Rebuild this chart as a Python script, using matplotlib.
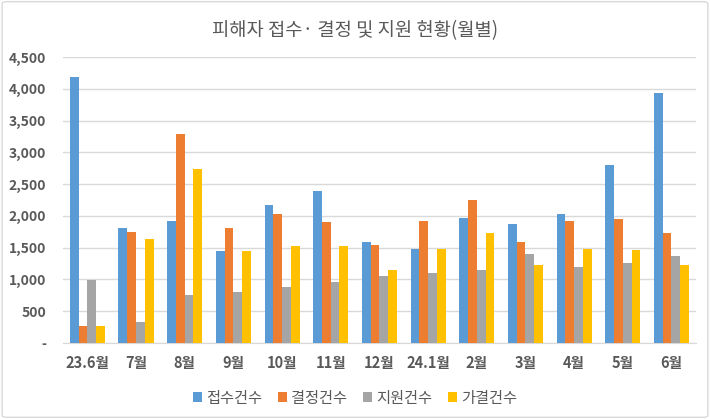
import numpy as np
import matplotlib
matplotlib.use("Agg")
import matplotlib.pyplot as plt
from matplotlib.patches import FancyBboxPatch
from matplotlib.ticker import FuncFormatter

plt.rcParams['font.family'] = ['Noto Sans CJK KR', 'DejaVu Sans']

# --- data ---
months = ['23.6월', '7월', '8월', '9월', '10월', '11월', '12월',
          '24.1월', '2월', '3월', '4월', '5월', '6월']
received = [4179, 1808, 1918, 1446, 2176, 2392, 1588, 1483, 1966, 1877, 2029, 2802, 3937]
decided = [263, 1745, 3285, 1808, 2029, 1903, 1535, 1918, 2255, 1588, 1918, 1956, 1730]
supported = [989, 326, 752, 805, 883, 962, 1052, 1104, 1147, 1399, 1199, 1252, 1372]
provisional = [263, 1635, 2734, 1446, 1525, 1525, 1147, 1472, 1730, 1226, 1472, 1457, 1226]

series_names = ['접수건수', '결정건수', '지원건수', '가결건수']
colors = ['#5B9BD5', '#ED7D31', '#A5A5A5', '#FFC000']
text_gray = '#595959'

fig = plt.figure(figsize=(7.1, 4.19), dpi=100)
ax = fig.add_axes([0.0887, 0.1814, 0.8913, 0.6826])

# outer chart border
fig.patches.append(FancyBboxPatch((0.003, 0.004), 0.994, 0.992,
                                  boxstyle="round,pad=0,rounding_size=0.006",
                                  transform=fig.transFigure, fill=False,
                                  edgecolor='#D9D9D9', linewidth=1.0))

x = np.arange(len(months))
w = 0.18
all_series = [received, decided, supported, provisional]
for i, (vals, name, c) in enumerate(zip(all_series, series_names, colors)):
    ax.bar(x + (i - 1.5) * w, vals, width=w, color=c, label=name, zorder=3)

ax.set_xlim(-0.5, len(months) - 0.5)
ax.set_ylim(0, 4500)
ax.set_yticks(np.arange(0, 4501, 500))
ax.yaxis.set_major_formatter(FuncFormatter(lambda v, p: '-' if v == 0 else f'{int(v):,}'))
ax.set_xticks(x)
ax.set_xticklabels(months)

ax.grid(axis='y', color='#D9D9D9', linewidth=1.0, zorder=0)
for s in ['top', 'right', 'left']:
    ax.spines[s].set_visible(False)
ax.spines['bottom'].set_color('#D9D9D9')
ax.tick_params(axis='both', length=0, colors=text_gray)
ax.tick_params(axis='y', pad=12)
ax.tick_params(axis='x', pad=9)
for lbl in ax.get_yticklabels():
    lbl.set_fontsize(10)
    lbl.set_fontweight('bold')
for lbl in ax.get_xticklabels():
    lbl.set_fontsize(10.5)
    lbl.set_fontweight('bold')

fig.text(0.5, 0.928, '피해자 접수· 결정 및 지원 현황(월별)', ha='center', va='center',
         fontsize=13.5, color=text_gray)

fig.legend(loc='center', bbox_to_anchor=(0.5, 0.05), ncol=4, frameon=False,
           fontsize=11, handlelength=0.6, handleheight=0.6, handletextpad=0.3,
           columnspacing=1.0, labelcolor=text_gray)

fig.savefig('out.png', dpi=100)
